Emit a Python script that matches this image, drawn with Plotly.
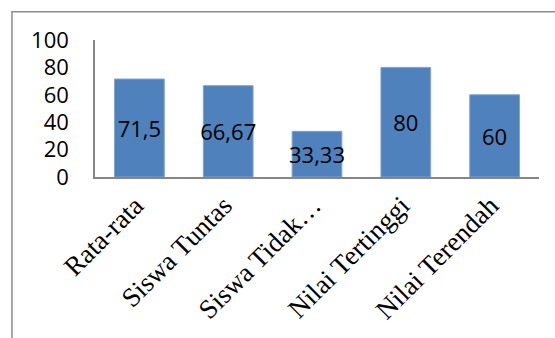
import plotly.graph_objects as go

categories = ["Rata-rata", "Siswa Tuntas", "Siswa Tidak…", "Nilai Tertinggi", "Nilai Terendah"]
values = [71.5, 66.67, 33.33, 80, 60]
labels = [f"{v:g}".replace(".", ",") for v in values]
y_ticks = [0, 20, 40, 60, 80, 100]

fig = go.Figure(go.Bar(
    x=categories, y=values, text=labels,
    textposition="inside", insidetextanchor="middle", textangle=0,
    constraintext="none",
    textfont=dict(family="Open Sans", size=22, color="black"),
    marker=dict(color="#4F81BD", line=dict(color="#7FA3D0", width=1)),
))

fig.update_layout(
    width=555, height=338,
    margin=dict(l=95, r=16, t=40, b=161),
    paper_bgcolor="white", plot_bgcolor="white",
    bargap=0.44, showlegend=False,
    uniformtext=dict(minsize=22, mode="show"),
    shapes=[dict(type="rect", xref="paper", yref="paper",
                 x0=-0.187, x1=1.2, y0=-1.6, y1=1.207,
                 line=dict(color="#8C8C8C", width=1.5), fillcolor="rgba(0,0,0,0)", layer="below")],
)
fig.update_xaxes(
    showline=True, linecolor="#868686", linewidth=2, showgrid=False, ticks="",
    tickangle=-45, ticklabelshift=-4,
    tickfont=dict(family="Liberation Serif", size=27, color="black"),
)
fig.update_yaxes(
    range=[0, 100], tickvals=y_ticks, showline=True, linecolor="#868686", linewidth=1.5,
    showgrid=False, ticks="", ticklabelstandoff=20,
    tickfont=dict(family="Open Sans", size=22, color="black"),
)
fig.write_html("out.html")
